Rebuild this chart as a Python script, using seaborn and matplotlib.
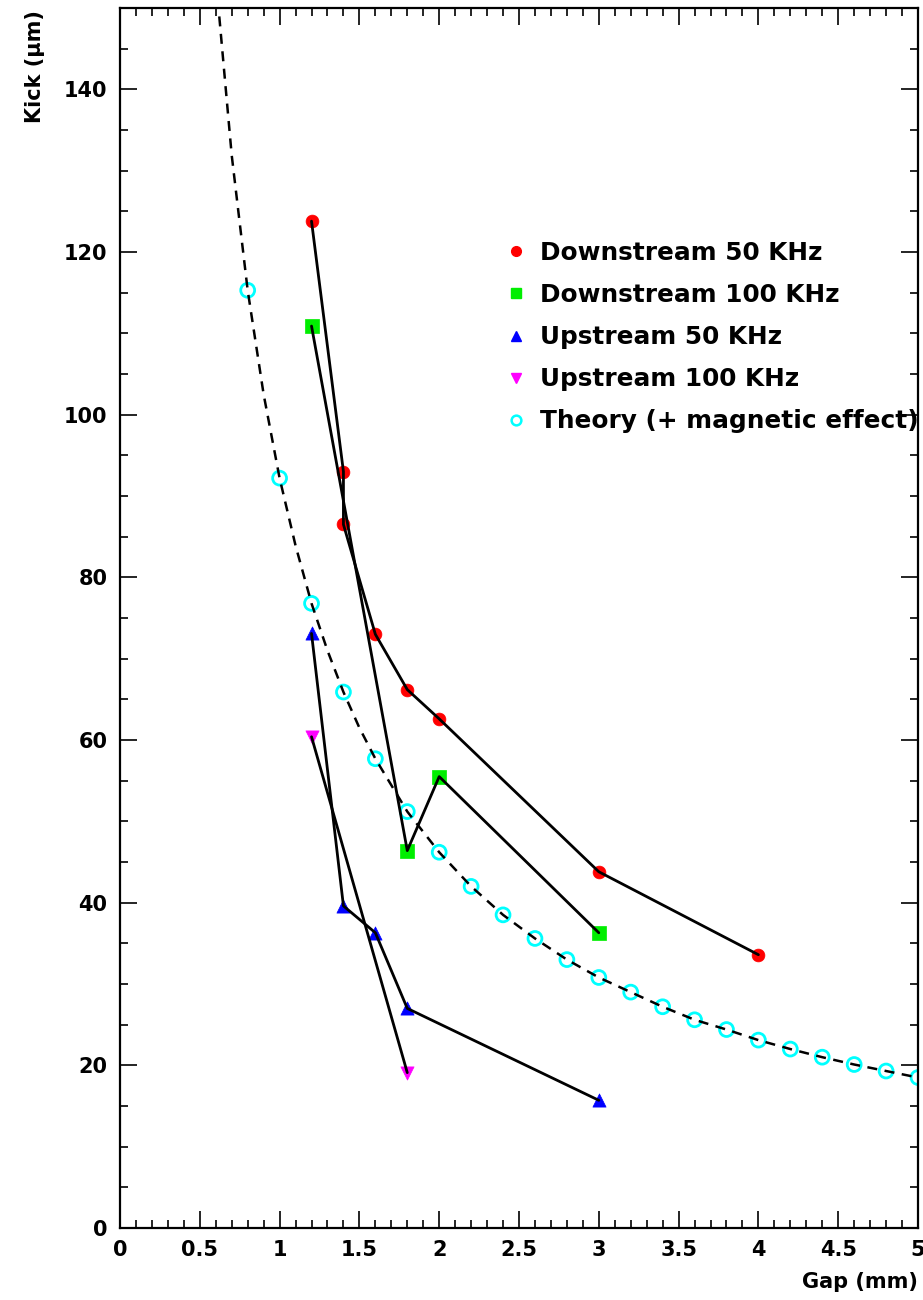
import matplotlib
matplotlib.use("Agg")
import matplotlib.pyplot as plt
import seaborn as sns
from matplotlib.ticker import MultipleLocator, FuncFormatter
from matplotlib.lines import Line2D

# Valores
down50_gap = [1.2, 1.4, 1.4, 1.6, 1.8, 2.0, 3.0, 4.0]
down50_kick = [123.8, 93.0, 86.5, 73.0, 66.2, 62.6, 43.8, 33.6]

down100_gap = [1.2, 1.8, 2.0, 3.0]
down100_kick = [110.9, 46.4, 55.5, 36.3]

up50_gap = [1.2, 1.4, 1.6, 1.8, 3.0]
up50_kick = [73.1, 39.6, 36.3, 27.0, 15.7]

up100_gap = [1.2, 1.8]
up100_kick = [60.4, 19.1]

theory_gap = [0.8, 1.0, 1.2, 1.4, 1.6, 1.8, 2.0, 2.2, 2.4, 2.6, 2.8, 3.0,
              3.2, 3.4, 3.6, 3.8, 4.0, 4.2, 4.4, 4.6, 4.8, 5.0]
theory_kick = [115.3, 92.2, 76.8, 65.9, 57.7, 51.2, 46.2, 42.0, 38.5, 35.6, 33.0, 30.8,
               29.0, 27.2, 25.6, 24.4, 23.1, 22.0, 21.0, 20.1, 19.3, 18.5]

# curva discontinua (ajuste)
fit_gap = [0.6, 0.7, 0.8, 0.9, 1.0, 1.1, 1.2, 1.3, 1.4, 1.5, 1.6, 1.8, 2.0, 2.2, 2.4,
           2.6, 2.8, 3.0, 3.2, 3.4, 3.6, 3.8, 4.0, 4.2, 4.4, 4.6, 4.8, 5.0]
fit_kick = [153.8, 131.9, 115.3, 102.5, 92.2, 83.9, 76.8, 71.0, 65.9, 61.5, 57.7, 51.2,
            46.2, 42.0, 38.5, 35.6, 33.0, 30.8, 29.0, 27.2, 25.6, 24.4, 23.1, 22.0,
            21.0, 20.1, 19.3, 18.5]

labels = ["Downstream 50 KHz", "Downstream 100 KHz", "Upstream 50 KHz",
          "Upstream 100 KHz", "Theory (+ magnetic effect)"]

sns.set_style("ticks")
plt.rcParams["font.family"] = ["DejaVu Sans"]
plt.rcParams["font.weight"] = "bold"
for k in ["text.color", "axes.labelcolor", "xtick.color", "ytick.color", "axes.edgecolor"]:
    plt.rcParams[k] = "black"

fig = plt.figure(figsize=(9.23, 13.0), dpi=100)
ax = fig.add_axes([0.130, 0.0554, 0.8646, 0.9384])

# marcadores
sns.scatterplot(x=down50_gap, y=down50_kick, marker="o", color="red", edgecolor="red",
                s=85, linewidth=0.5, zorder=2, ax=ax, legend=False)
sns.scatterplot(x=down100_gap, y=down100_kick, marker="s", color="#00ee00", edgecolor="#00ee00",
                s=95, linewidth=0.5, zorder=2, ax=ax, legend=False)
sns.scatterplot(x=up50_gap, y=up50_kick, marker="^", color="blue", edgecolor="blue",
                s=90, linewidth=0.5, zorder=2, ax=ax, legend=False)
sns.scatterplot(x=up100_gap, y=up100_kick, marker="v", color="magenta", edgecolor="magenta",
                s=90, linewidth=0.5, zorder=2, ax=ax, legend=False)
sns.scatterplot(x=theory_gap, y=theory_kick, marker="o", facecolor="none", edgecolor="cyan",
                s=100, linewidth=2.0, zorder=2, ax=ax, legend=False)

# lineas negras por encima
for gx, ky in [(down50_gap, down50_kick), (down100_gap, down100_kick),
               (up50_gap, up50_kick), (up100_gap, up100_kick)]:
    sns.lineplot(x=gx, y=ky, estimator=None, sort=False, color="black", lw=2.0,
                 zorder=3, ax=ax)
sns.lineplot(x=fit_gap, y=fit_kick, estimator=None, sort=False, color="black", lw=1.8,
             linestyle=(0, (4, 3)), zorder=3, ax=ax)

ax.set_xlim(0, 5)
ax.set_ylim(0, 150)
ax.xaxis.set_major_locator(MultipleLocator(0.5))
ax.xaxis.set_minor_locator(MultipleLocator(0.1))
ax.yaxis.set_major_locator(MultipleLocator(20))
ax.yaxis.set_minor_locator(MultipleLocator(5))
ax.xaxis.set_major_formatter(FuncFormatter(lambda v, p: f"{v:g}"))
ax.tick_params(which="both", direction="in", top=True, right=True, width=1.2,
               labelsize=15, color="black", labelcolor="black")
ax.tick_params(which="major", length=12)
ax.tick_params(which="minor", length=6)
ax.tick_params(axis="x", pad=9)
ax.tick_params(axis="y", pad=9)
for sp in ax.spines.values():
    sp.set_linewidth(1.6)
    sp.set_color("black")

ax.set_xlabel("Gap (mm)", fontsize=15, fontweight="bold", loc="right", color="black")
ax.xaxis.set_label_coords(1.0, -0.036)
ax.set_ylabel("Kick (\u03bcm)", fontsize=15, fontweight="bold", loc="top", color="black")
ax.yaxis.set_label_coords(-0.094, 0.998)

handles = [
    Line2D([], [], ls="none", marker="o", color="red", ms=7),
    Line2D([], [], ls="none", marker="s", color="#00ee00", ms=7),
    Line2D([], [], ls="none", marker="^", color="blue", ms=7),
    Line2D([], [], ls="none", marker="v", color="magenta", ms=7),
    Line2D([], [], ls="none", marker="o", mfc="none", mec="cyan", mew=1.8, ms=7),
]
leg = ax.legend(handles, labels, loc="upper left", bbox_to_anchor=(0.487, 0.809),
                frameon=False, fontsize=17.8, handlelength=0.6, handletextpad=0.65,
                labelspacing=0.73, borderpad=0, borderaxespad=0)
for t in leg.get_texts():
    t.set_fontweight("bold")
    t.set_color("black")

fig.savefig("out.png", dpi=100)
